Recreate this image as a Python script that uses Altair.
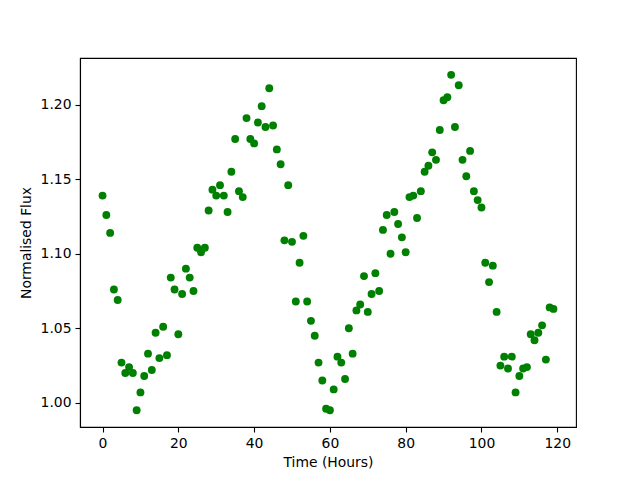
import altair as alt
import pandas as pd

time_hours = [
    0, 1, 2, 3, 4, 5, 6, 7, 8, 9,
    10, 11, 12, 13, 14, 15, 16, 17, 18, 19,
    20, 21, 22, 23, 24, 25, 26, 27, 28, 29,
    30, 31, 32, 33, 34, 35, 36, 37, 38, 39,
    40, 41, 42, 43, 44, 45, 46, 47, 48, 49,
    50, 51, 52, 53, 54, 55, 56, 57, 58, 59,
    60, 61, 62, 63, 64, 65, 66, 67, 68, 69,
    70, 71, 72, 73, 74, 75, 76, 77, 78, 79,
    80, 81, 82, 83, 84, 85, 86, 87, 88, 89,
    90, 91, 92, 93, 94, 95, 96, 97, 98, 99,
    100, 101, 102, 103, 104, 105, 106, 107, 108, 109,
    110, 111, 112, 113, 114, 115, 116, 117, 118, 119,
]

norm_flux = [
    1.139, 1.126, 1.114, 1.076, 1.069, 1.027, 1.020, 1.024, 1.020, 0.995,
    1.007, 1.018, 1.033, 1.022, 1.047, 1.030, 1.051, 1.032, 1.084, 1.076,
    1.046, 1.073, 1.090, 1.084, 1.075, 1.104, 1.101, 1.104, 1.129, 1.143,
    1.139, 1.146, 1.139, 1.128, 1.155, 1.177, 1.142, 1.138, 1.191, 1.177,
    1.174, 1.188, 1.199, 1.185, 1.211, 1.186, 1.170, 1.160, 1.109, 1.146,
    1.108, 1.068, 1.094, 1.112, 1.068, 1.055, 1.045, 1.027, 1.015, 0.996,
    0.995, 1.009, 1.031, 1.027, 1.016, 1.050, 1.033, 1.062, 1.066, 1.085,
    1.061, 1.073, 1.087, 1.075, 1.116, 1.126, 1.100, 1.128, 1.120, 1.111,
    1.101, 1.138, 1.139, 1.124, 1.142, 1.155, 1.159, 1.168, 1.163, 1.183,
    1.203, 1.205, 1.220, 1.185, 1.213, 1.163, 1.152, 1.169, 1.142, 1.136,
    1.131, 1.094, 1.081, 1.092, 1.061, 1.025, 1.031, 1.023, 1.031, 1.007,
    1.018, 1.023, 1.024, 1.046, 1.042, 1.047, 1.052, 1.029, 1.064, 1.063,
]

x_ticks = [0, 20, 40, 60, 80, 100, 120]
y_ticks = [1.00, 1.05, 1.10, 1.15, 1.20]

df = pd.DataFrame({"t": time_hours, "f": norm_flux})

font = "DejaVu Sans"

chart = (
    alt.Chart(df)
    .mark_circle(size=62, opacity=1, color="#008000")
    .encode(
        x=alt.X(
            "t:Q",
            scale=alt.Scale(domain=[-5.95, 124.95], nice=False, zero=False),
            axis=alt.Axis(
                title="Time (Hours)",
                values=x_ticks,
                format="d",
                grid=False,
                tickSize=5,
                labelPadding=4,
                titlePadding=6,
            ),
        ),
        y=alt.Y(
            "f:Q",
            scale=alt.Scale(domain=[0.9838, 1.2313], nice=False, zero=False),
            axis=alt.Axis(
                title="Normalised Flux",
                values=y_ticks,
                format=".2f",
                grid=False,
                tickSize=5,
                labelPadding=4,
                titlePadding=7,
            ),
        ),
    )
    .properties(
        width=496,
        height=369,
        autosize=alt.AutoSizeParams(type="none"),
        padding={"left": 72, "top": 50, "right": 56, "bottom": 45},
    )
    .configure_view(stroke="black", strokeWidth=1.1)
    .configure_axis(
        labelFont=font,
        titleFont=font,
        labelFontSize=13.9,
        titleFontSize=13.9,
        titleFontWeight="normal",
        labelColor="black",
        titleColor="black",
        tickColor="black",
        domainColor="black",
        tickWidth=1.1,
        domainWidth=1.1,
    )
)

chart.save("out.html", embed_options={"renderer": "svg", "actions": False})
